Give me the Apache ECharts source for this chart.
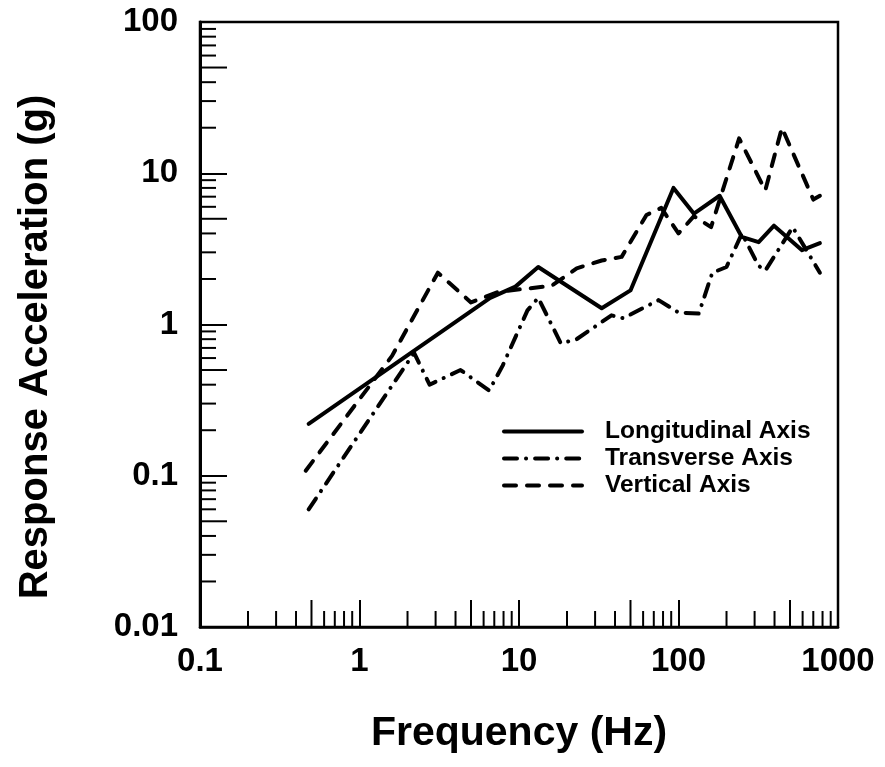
<!DOCTYPE html>
<html>
<head>
<meta charset="utf-8">
<script src="https://cdn.jsdelivr.net/npm/echarts@6/dist/echarts.min.js"></script>
<style>
html,body{margin:0;padding:0;background:#fff;}
#chart{width:885px;height:767px;}
</style>
</head>
<body>
<div id="chart"></div>
<script>
// ---- data ----
const longFreq = [0.48, 6.6, 9.5, 13.2, 33, 50, 93, 125, 181, 249, 318, 397, 595, 770];
const longVal  = [0.22, 1.5, 1.78, 2.4, 1.28, 1.68, 8.0, 5.4, 7.1, 3.8, 3.5, 4.5, 3.1, 3.45];

const transFreq = [0.48, 2.2, 2.75, 4.3, 6.5, 7.9, 11.3, 13.2, 18.3, 23, 38, 45, 75, 100, 134, 163, 200, 250, 317, 350, 520, 770];
const transVal  = [0.06, 0.65, 0.40, 0.50, 0.366, 0.535, 1.24, 1.5, 0.75, 0.8, 1.15, 1.1, 1.45, 1.2, 1.18, 2.2, 2.4, 4.0, 2.45, 2.27, 4.4, 2.2];

const vertFreq = [0.46, 1.6, 3.1, 5.0, 7.5, 16, 23, 33, 44, 63, 78, 100, 125, 160, 240, 350, 445, 700, 770];
const vertVal  = [0.108, 0.62, 2.2, 1.4, 1.65, 1.8, 2.35, 2.65, 2.8, 5.3, 5.9, 4.0, 5.2, 4.4, 17, 7.7, 20, 6.7, 7.1];

const seriesNames = ['Longitudinal Axis', 'Transverse Axis', 'Vertical Axis'];
const xTickLabels = [0.1, 1, 10, 100, 1000];
const yTickLabels = [0.01, 0.1, 1, 10, 100];
const minorMantissas = [2, 3, 4, 5, 6, 7, 8, 9];
const xDecades = [0.1, 1, 10, 100];
const yDecades = [0.01, 0.1, 1, 10];

const pairs = (xs, ys) => xs.map((x, i) => [x, ys[i]]);
const xMinor = [];
xDecades.forEach(d => minorMantissas.forEach(m => xMinor.push([+(d * m).toPrecision(3), m === 5 ? 1 : 0])));
const yMinor = [];
yDecades.forEach(d => minorMantissas.forEach(m => yMinor.push([+(d * m).toPrecision(3), m === 5 ? 1 : 0])));

const X_MIN = 0.1, X_MAX = 1000, Y_MIN = 0.01, Y_MAX = 100;
const LONG = 27, SHORT = 16;
const FONT = '"Liberation Sans", Arial, Helvetica, sans-serif';

const chart = echarts.init(document.getElementById('chart'));
const fmt = v => String(+(+v).toPrecision(3));

const lineSeries = (name, xs, ys, dash) => ({
  name, type: 'line', data: pairs(xs, ys), symbol: 'none', showSymbol: false,
  itemStyle: { color: '#000' },
  lineStyle: { color: '#000', width: 4, type: dash, cap: 'round', join: 'round' }, z: 3
});

chart.setOption({
  animation: false,
  backgroundColor: '#fff',
  grid: { left: 200, right: 47, top: 22, bottom: 140, show: true, borderColor: '#000', borderWidth: 2.5, backgroundColor: 'transparent' },
  xAxis: {
    type: 'log', logBase: 10, min: X_MIN, max: X_MAX,
    axisLine: { show: true, lineStyle: { color: '#000', width: 2.5 } },
    axisTick: { show: true, inside: true, length: LONG, lineStyle: { color: '#000', width: 2 } },
    splitLine: { show: false },
    axisLabel: { formatter: fmt, color: '#000', fontFamily: FONT, fontWeight: 'bold', fontSize: 33, margin: 18 },
    name: 'Frequency (Hz)', nameLocation: 'middle', nameGap: 86,
    nameTextStyle: { color: '#000', fontFamily: FONT, fontWeight: 'bold', fontSize: 41 }
  },
  yAxis: {
    type: 'log', logBase: 10, min: Y_MIN, max: Y_MAX,
    axisLine: { show: true, lineStyle: { color: '#000', width: 3 } },
    axisTick: { show: true, inside: true, length: LONG, lineStyle: { color: '#000', width: 2 } },
    splitLine: { show: false },
    axisLabel: { formatter: fmt, color: '#000', fontFamily: FONT, fontWeight: 'bold', fontSize: 33, margin: 22 }
  },
  graphic: [{
    type: 'text', x: 36, y: 347, rotation: Math.PI / 2,
    style: { text: 'Response Acceleration (g)', fill: '#000', font: 'bold 40px ' + FONT, textAlign: 'center', textVerticalAlign: 'middle' }
  }],
  legend: {
    data: seriesNames, orient: 'vertical', left: 497, top: 414, padding: 5,
    itemWidth: 78, itemHeight: 14, itemGap: 2,
    itemStyle: { opacity: 0 },
    lineStyle: { width: 4 },
    textStyle: { color: '#000', fontFamily: FONT, fontWeight: 'bold', fontSize: 24.5, padding: [0, 0, 0, 18] },
    selectedMode: false
  },
  series: [
    lineSeries(seriesNames[0], longFreq, longVal, 'solid'),
    lineSeries(seriesNames[1], transFreq, transVal, [13, 9, 0.1, 9]),
    lineSeries(seriesNames[2], vertFreq, vertVal, [12, 11]),
    {
      name: 'xMinorTicks', type: 'custom', data: xMinor, silent: true, z: 2,
      renderItem: (params, api) => {
        const p = api.coord([api.value(0), Y_MIN]);
        const len = api.value(1) ? LONG : SHORT;
        return { type: 'line', shape: { x1: p[0], y1: p[1], x2: p[0], y2: p[1] - len }, style: { stroke: '#000', lineWidth: 2 } };
      }
    },
    {
      name: 'yMinorTicks', type: 'custom', data: yMinor.map(d => [X_MIN, d[0], d[1]]), silent: true, z: 2,
      renderItem: (params, api) => {
        const p = api.coord([X_MIN, api.value(1)]);
        const len = api.value(2) ? LONG : SHORT;
        return { type: 'line', shape: { x1: p[0], y1: p[1], x2: p[0] + len, y2: p[1] }, style: { stroke: '#000', lineWidth: 2 } };
      }
    }
  ]
});
</script>
</body>
</html>
